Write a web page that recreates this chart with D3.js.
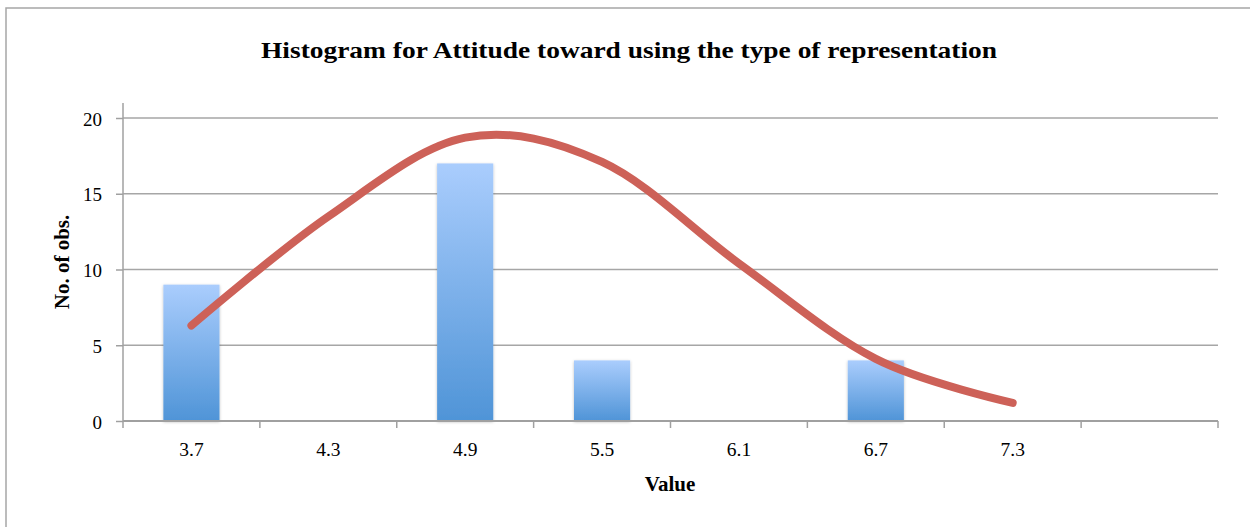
<!DOCTYPE html>
<html>
<head>
<meta charset="utf-8">
<script src="https://cdn.jsdelivr.net/npm/d3@7"></script>
<style>
  body { margin: 0; background: #fff; }
  svg { display: block; }
</style>
</head>
<body>
<svg id="chart" width="1250" height="527"></svg>
<script>
// histogram bins and counts
const categories = ['3.7', '4.3', '4.9', '5.5', '6.1', '6.7', '7.3', ''];
const counts = [9, 0, 17, 4, 0, 4, 0, 0];
// fitted normal curve, one value per bin (last bin has none)
const curveValues = [6.3, 13.5, 18.7, 17.1, 10.4, 4.1, 1.2];
const yTicks = [0, 5, 10, 15, 20];

const title = 'Histogram for Attitude toward using the type of representation';
const serif = '"Liberation Serif", "DejaVu Serif", serif';

const svg = d3.select('#chart');
const plotLeft = 123, plotRight = 1218, plotTop = 118, plotBottom = 421;

// outer chart frame
svg.append('rect')
  .attr('x', 6).attr('y', 8)
  .attr('width', 1260).attr('height', 540)
  .attr('fill', 'none')
  .attr('stroke', '#a6a6a6')
  .attr('stroke-width', 1.5);

const x = d3.scaleBand()
  .domain(d3.range(categories.length))
  .range([plotLeft, plotRight])
  .padding(0);

const y = d3.scaleLinear()
  .domain([0, 20])
  .range([plotBottom, plotTop]);

const defs = svg.append('defs');
const grad = defs.append('linearGradient')
  .attr('id', 'barGrad')
  .attr('x1', 0).attr('y1', 0).attr('x2', 0).attr('y2', 1);
grad.append('stop').attr('offset', '0%').attr('stop-color', '#aacdfd');
grad.append('stop').attr('offset', '100%').attr('stop-color', '#4f94d7');

const shadow = defs.append('filter').attr('id', 'shadow')
  .attr('x', '-20%').attr('y', '-20%').attr('width', '140%').attr('height', '140%');
shadow.append('feDropShadow')
  .attr('dx', 0).attr('dy', 1)
  .attr('stdDeviation', 1.5)
  .attr('flood-color', '#000')
  .attr('flood-opacity', 0.25);

// horizontal gridlines
svg.append('g')
  .selectAll('line')
  .data(yTicks.filter(d => d > 0))
  .join('line')
  .attr('x1', plotLeft).attr('x2', plotRight)
  .attr('y1', d => y(d)).attr('y2', d => y(d))
  .attr('stroke', '#a6a6a6')
  .attr('stroke-width', 1.5);

// y axis
const yAxis = svg.append('g')
  .attr('transform', `translate(${plotLeft},0)`)
  .call(d3.axisLeft(y).tickValues(yTicks).tickSize(7).tickPadding(14));
yAxis.select('.domain').attr('stroke', '#a0a0a0').attr('stroke-width', 1.5)
  .attr('d', `M0,${plotTop - 15}V${plotBottom}`);
yAxis.selectAll('.tick line').attr('stroke', '#a0a0a0').attr('stroke-width', 1.5);
yAxis.selectAll('.tick text')
  .attr('font-family', serif).attr('font-size', 19).attr('fill', '#000')
  .attr('dy', '0.38em');

// bars
const barW = x.bandwidth() * 0.41;
svg.append('g')
  .selectAll('rect')
  .data(counts.map((c, i) => ({ i, c })).filter(d => d.c > 0))
  .join('rect')
  .attr('x', d => x(d.i) + (x.bandwidth() - barW) / 2)
  .attr('y', d => y(d.c))
  .attr('width', barW)
  .attr('height', d => y(0) - y(d.c))
  .attr('fill', 'url(#barGrad)')
  .attr('filter', 'url(#shadow)');

// x axis: ticks at bin boundaries, labels at bin centres
const xAxisG = svg.append('g').attr('transform', `translate(0,${plotBottom})`);
xAxisG.append('line')
  .attr('x1', plotLeft).attr('x2', plotRight)
  .attr('stroke', '#a0a0a0').attr('stroke-width', 2);
xAxisG.selectAll('line.tick')
  .data(d3.range(categories.length + 1))
  .join('line')
  .attr('class', 'tick')
  .attr('x1', i => plotLeft + i * x.step()).attr('x2', i => plotLeft + i * x.step())
  .attr('y1', 0).attr('y2', 7)
  .attr('stroke', '#a0a0a0').attr('stroke-width', 1.5);
xAxisG.selectAll('text')
  .data(categories)
  .join('text')
  .attr('x', (d, i) => x(i) + x.bandwidth() / 2)
  .attr('y', 35)
  .attr('text-anchor', 'middle')
  .attr('font-family', serif).attr('font-size', 19.5)
  .text(d => d);

// normal curve
const line = d3.line()
  .x((d, i) => x(i) + x.bandwidth() / 2)
  .y(d => y(d))
  .curve(d3.curveCardinal.tension(0));
svg.append('path')
  .datum(curveValues)
  .attr('d', line)
  .attr('fill', 'none')
  .attr('stroke', '#cd6158')
  .attr('stroke-width', 8)
  .attr('stroke-linecap', 'round')
  .attr('stroke-linejoin', 'round');

// titles
svg.append('text')
  .attr('x', 629).attr('y', 58)
  .attr('text-anchor', 'middle')
  .attr('font-family', serif).attr('font-weight', 'bold').attr('font-size', 24)
  .attr('textLength', 736).attr('lengthAdjust', 'spacingAndGlyphs')
  .text(title);

svg.append('text')
  .attr('x', 670).attr('y', 491)
  .attr('text-anchor', 'middle')
  .attr('font-family', serif).attr('font-weight', 'bold').attr('font-size', 21)
  .text('Value');

svg.append('text')
  .attr('transform', 'translate(69,262) rotate(-90)')
  .attr('text-anchor', 'middle')
  .attr('font-family', serif).attr('font-weight', 'bold').attr('font-size', 21)
  .text('No. of obs.');
</script>
</body>
</html>
